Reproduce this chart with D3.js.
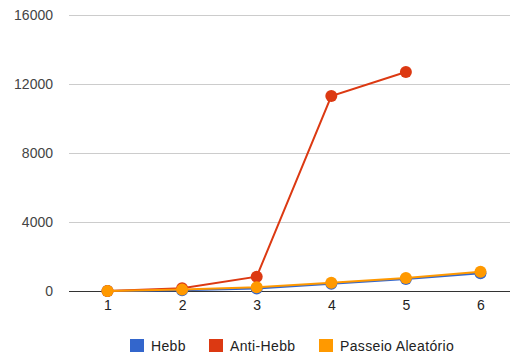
<!DOCTYPE html>
<html><head><meta charset="utf-8">
<script src="https://cdn.jsdelivr.net/npm/d3@7"></script>
<style>
body{margin:0;background:#fff;}
text{font-family:"Liberation Sans",Arial,sans-serif;}
</style></head>
<body>
<svg id="c" width="510" height="356"></svg>
<script>
const categories = [1, 2, 3, 4, 5, 6];
const hebb = [0, 50, 150, 420, 690, 1030];
const antiHebb = [0, 160, 830, 11300, 12700, null];
const passeio = [0, 80, 215, 480, 750, 1120];
const yTicks = [0, 4000, 8000, 12000, 16000];
const seriesNames = ["Hebb", "Anti-Hebb", "Passeio Aleatório"];
const colors = ["#3366cc", "#dc3912", "#ff9900"];

const svg = d3.select("#c");
const x = d3.scalePoint().domain(categories).range([107.5, 480.5]);
const y = d3.scaleLinear().domain([0, 16000]).range([291, 15]);

// gridlines
svg.append("g").selectAll("line").data(yTicks.filter(d => d !== 0)).join("line")
  .attr("x1", 69).attr("x2", 510)
  .attr("y1", d => Math.round(y(d)) + 0.5).attr("y2", d => Math.round(y(d)) + 0.5)
  .attr("stroke", "#cccccc").attr("stroke-width", 1);

// y axis labels
const yAxis = d3.axisLeft(y).tickValues(yTicks).tickSize(0).tickPadding(0).tickFormat(d3.format("d"));
const gy = svg.append("g").attr("transform", "translate(53,0)").call(yAxis);
gy.select(".domain").remove();
gy.selectAll("text").attr("font-size", 14).attr("fill", "#444").attr("font-family", "Liberation Sans, Arial, sans-serif");

// baseline
svg.append("line").attr("x1", 69).attr("x2", 510)
  .attr("y1", Math.round(y(0)) + 0.5).attr("y2", Math.round(y(0)) + 0.5)
  .attr("stroke", "#333").attr("stroke-width", 1);

// x axis labels
const xAxis = d3.axisBottom(x).tickSize(0).tickPadding(0);
const gx = svg.append("g").attr("transform", "translate(0,300)").call(xAxis);
gx.select(".domain").remove();
gx.selectAll("text").attr("font-size", 14).attr("fill", "#222").attr("font-family", "Liberation Sans, Arial, sans-serif");

// series
const allSeries = [hebb, antiHebb, passeio];
const line = d3.line().defined(d => d.v != null).x(d => x(d.c)).y(d => y(d.v));
allSeries.forEach((vals, i) => {
  const pts = categories.map((c, j) => ({c, v: vals[j]}));
  const g = svg.append("g");
  g.append("path").datum(pts).attr("d", line)
    .attr("fill", "none").attr("stroke", colors[i]).attr("stroke-width", 2);
  g.selectAll("circle").data(pts.filter(d => d.v != null)).join("circle")
    .attr("cx", d => x(d.c)).attr("cy", d => y(d.v)).attr("r", 6)
    .attr("fill", colors[i]);
});

// legend
const legX = [130, 209, 319];
const lg = svg.append("g");
seriesNames.forEach((n, i) => {
  lg.append("rect").attr("x", legX[i]).attr("y", 339).attr("width", 14).attr("height", 13).attr("fill", colors[i]);
  lg.append("text").attr("x", legX[i] + 21).attr("y", 351).attr("font-size", 14)
    .attr("letter-spacing", 0.35).attr("fill", "#222").text(n);
});
</script>
</body></html>
